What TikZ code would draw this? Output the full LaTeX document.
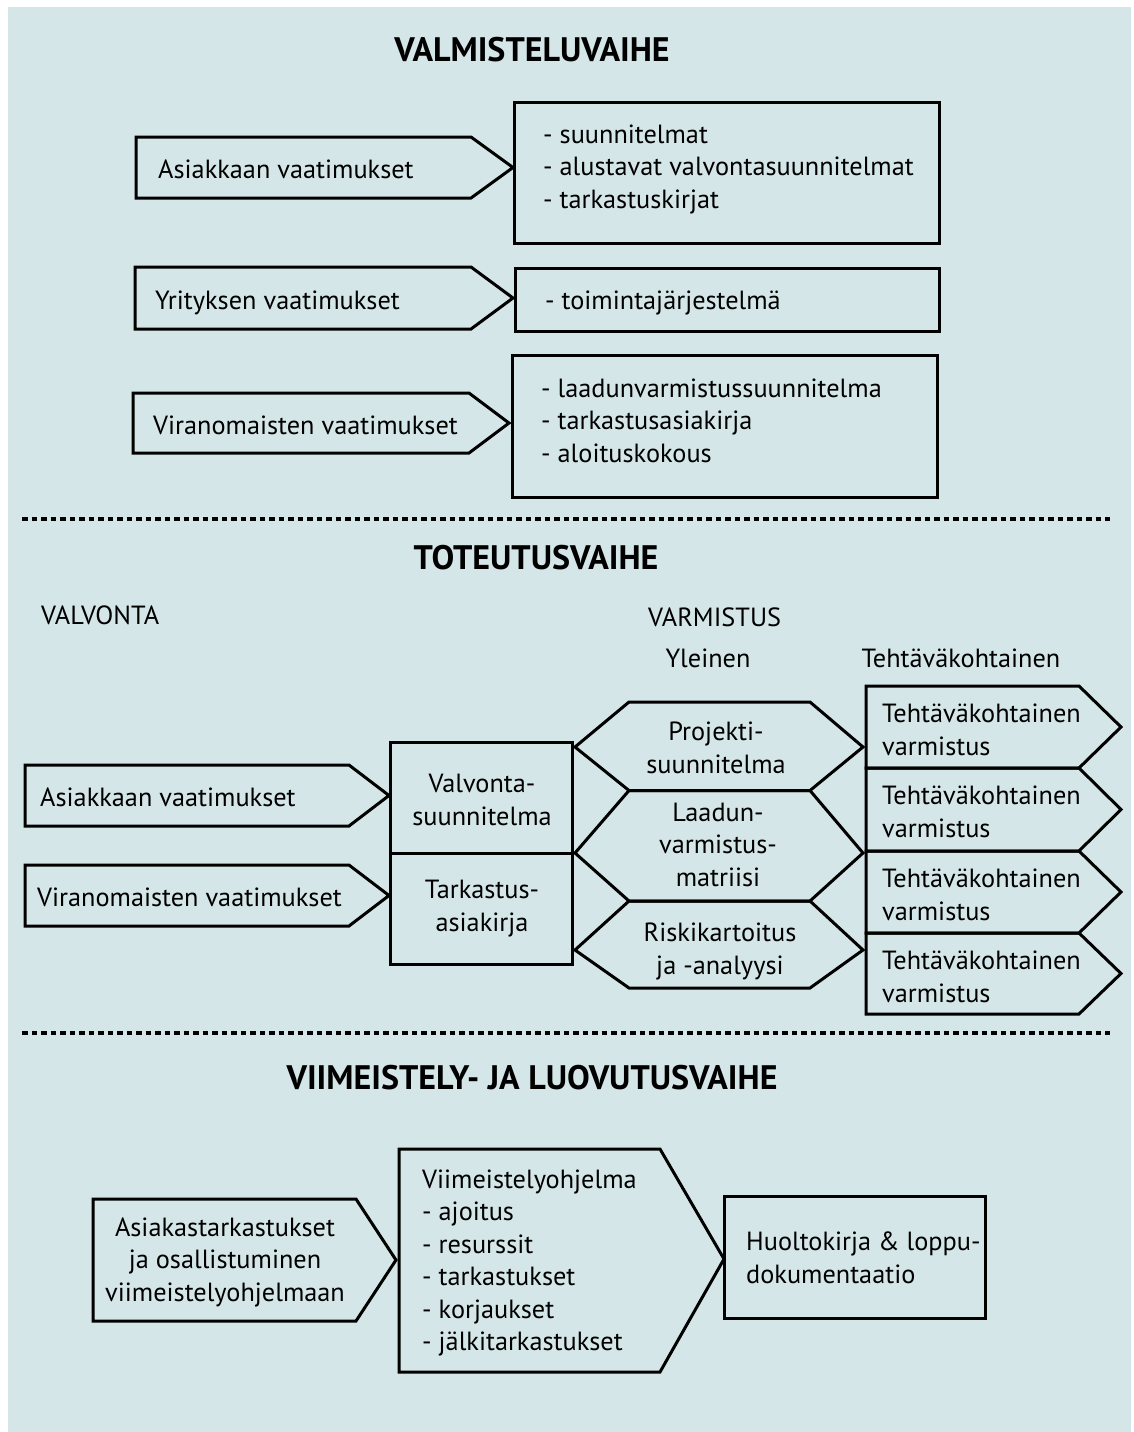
\documentclass[tikz,border=0pt]{standalone}
\usepackage{fontspec}
\setmainfont{PT Sans}
\definecolor{bgc}{RGB}{212,230,232}
\tikzset{
  shp/.style={draw=black, line width=3pt, line join=miter, miter limit=10},
  txt/.style={inner sep=0pt, yshift=-4.5pt, font=\fontsize{26.3}{32.5}\selectfont, execute at begin node=\strut, execute at end node=\strut},
  lt/.style={txt, anchor=west, align=left},
  ct/.style={txt, anchor=center, align=center},
  ttl/.style={inner sep=0pt, font=\fontsize{34}{40}\selectfont\bfseries},
  sepline/.style={line width=3.5pt, dash pattern=on 5.5pt off 4pt},
}
\begin{document}
\begin{tikzpicture}[x=1pt,y=-1pt]
\useasboundingbox (0,0) rectangle (1133,1432);
\fill[bgc] (8,7) rectangle (1131,1432);

% ---------- VALMISTELUVAIHE ----------
\node[ttl] (t1) at (532,50) {VALMISTELUVAIHE};

\draw[shp] (136,137) -- (471,137) -- (513,167.5) -- (471,198) -- (136,198) -- cycle;
\node[lt] (r1a) at (158,167) {Asiakkaan vaatimukset};
\draw[shp] (514,102) rectangle (939,243);
\node[lt] (r1b) at (543,167) {- suunnitelmat\\- alustavat valvontasuunnitelmat\\- tarkastuskirjat};

\draw[shp] (135,267) -- (471,267) -- (513,298) -- (471,329) -- (135,329) -- cycle;
\node[lt] (r2a) at (155,298) {Yrityksen vaatimukset};
\draw[shp] (515,268) rectangle (939,331);
\node[lt] (r2b) at (545,298) {- toimintajärjestelmä};

\draw[shp] (133,393) -- (469,393) -- (509,423) -- (469,453) -- (133,453) -- cycle;
\node[lt] (r3a) at (153,423) {Viranomaisten vaatimukset};
\draw[shp] (512,355) rectangle (937,497);
\node[lt] (r3b) at (541,421) {- laadunvarmistussuunnitelma\\- tarkastusasiakirja\\- aloituskokous};

\draw[sepline] (22,519) -- (1110,519);

% ---------- TOTEUTUSVAIHE ----------
\node[ttl] (t2) at (536,558) {TOTEUTUSVAIHE};
\node[lt] (valv) at (41,613) {VALVONTA};
\node[lt] (varm) at (648,615) {VARMISTUS};
\node[ct] (yl) at (708,656) {Yleinen};
\node[ct] (teh) at (961,656) {Tehtäväkohtainen};

\draw[shp] (25,765) -- (349,765) -- (389,795.5) -- (349,826) -- (25,826) -- cycle;
\node[lt] (s2a) at (40,795) {Asiakkaan vaatimukset};
\draw[shp] (25,865) -- (349,865) -- (389,895.5) -- (349,926) -- (25,926) -- cycle;
\node[lt] (s2b) at (37,895) {Viranomaisten vaatimukset};

\draw[shp] (390,742) rectangle (572,853);
\draw[shp] (390,853) rectangle (572,964);
\node[ct] (vs) at (482,800) {Valvonta-\\suunnitelma};
\node[ct] (ta) at (482,906) {Tarkastus-\\asiakirja};

\draw[shp] (575,747) -- (629,702) -- (810,702) -- (863,747) -- (810,790.5) -- (629,790.5) -- cycle;
\node[ct] (h1) at (716,748) {Projekti-\\suunnitelma};
\draw[shp] (575,853) -- (629,790.5) -- (810,790.5) -- (863,853) -- (810,901) -- (629,901) -- cycle;
\node[ct] (h2) at (718,845) {Laadun-\\varmistus-\\matriisi};
\draw[shp] (575,950) -- (629,901) -- (810,901) -- (863,950) -- (810,988) -- (629,988) -- cycle;
\node[ct] (h3) at (720,949) {Riskikartoitus\\ja -analyysi};

\draw[shp] (866,686) -- (1079,686) -- (1121,727) -- (1079,768) -- (866,768) -- cycle;
\node[lt] (k1) at (882,730) {Tehtäväkohtainen\\varmistus};
\draw[shp] (866,768) -- (1079,768) -- (1121,809.5) -- (1079,851) -- (866,851) -- cycle;
\node[lt] (k2) at (882,812) {Tehtäväkohtainen\\varmistus};
\draw[shp] (866,851) -- (1079,851) -- (1121,892) -- (1079,933) -- (866,933) -- cycle;
\node[lt] (k3) at (882,895) {Tehtäväkohtainen\\varmistus};
\draw[shp] (866,933) -- (1079,933) -- (1121,973.5) -- (1079,1014) -- (866,1014) -- cycle;
\node[lt] (k4) at (882,977) {Tehtäväkohtainen\\varmistus};

\draw[sepline] (22,1033) -- (1110,1033);

% ---------- VIIMEISTELY- JA LUOVUTUSVAIHE ----------
\node[ttl] (t3) at (532,1078) {VIIMEISTELY- JA LUOVUTUSVAIHE};

\draw[shp] (93,1199) -- (356,1199) -- (396,1260) -- (356,1321) -- (93,1321) -- cycle;
\node[ct] (b1) at (225,1260) {Asiakastarkastukset\\ja osallistuminen\\viimeistelyohjelmaan};
\draw[shp] (399,1149) -- (660,1149) -- (724,1259) -- (660,1372) -- (399,1372) -- cycle;
\node[lt] (b2) at (422,1260.5) {Viimeistelyohjelma\\- ajoitus\\- resurssit\\- tarkastukset\\- korjaukset\\- jälkitarkastukset};
\draw[shp] (724,1196) rectangle (985,1318);
\node[lt] (b3) at (746,1258) {Huoltokirja \& loppu-\\dokumentaatio};
\end{tikzpicture}
\end{document}
